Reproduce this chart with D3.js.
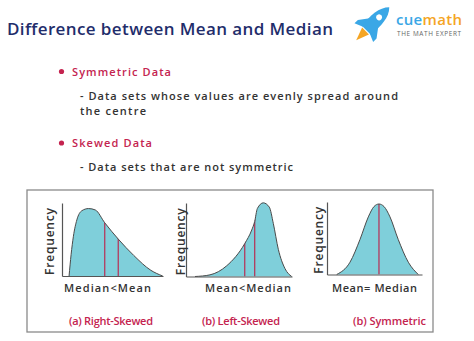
<!DOCTYPE html>
<html>
<head>
<meta charset="utf-8">
<script src="https://cdn.jsdelivr.net/npm/d3@7/dist/d3.min.js"></script>
<style>
  html, body { margin: 0; padding: 0; background: #fff; }
  svg { display: block; }
  text { font-family: "Open Sans", Lato, sans-serif; }
</style>
</head>
<body>
<svg id="chart" width="474" height="341"></svg>
<script>
// Curve shapes: position along the axis (0–100) and relative frequency (0–100)
const rightSkewX = [7, 9, 11.3, 14.7, 19.7, 26.3, 33, 42.3, 55.7, 71, 88, 99.7];
const rightSkewY = [0, 30, 56, 79, 92, 95, 93, 75, 52, 29, 8, 0];
const leftSkewX = [8.5, 22.6, 38.4, 55.4, 62, 64.8, 67.3, 72.9, 78.6, 82.4, 87.1, 93.4, 99.7];
const leftSkewY = [0, 2.3, 15, 46, 65, 77, 95, 103, 97, 74, 38, 11, 0];
const symmetricX = [10.2, 24.2, 34.7, 43.5, 49.5, 54.7, 60, 66.3, 75, 85.6, 96.1];
const symmetricY = [0, 17.4, 49.6, 81.7, 96.4, 100, 96.4, 81.7, 49.6, 17.4, 0];

// Median / mean positions on each axis
const rightSkewMarks = [42.3, 55.7];   // median, mean
const leftSkewMarks = [55.4, 64.8];    // mean, median
const symmetricMarks = [54.7];         // mean = median

const axisLabels = ["Median<Mean", "Mean<Median", "Mean= Median"];
const captions = ["(a) Right-Skewed", "(b) Left-Skewed", "(b) Symmetric"];
const yAxisTitle = "Frequency";

const svg = d3.select("#chart");

const navy = "#1f2d6b";
const pink = "#c4234f";
const dark = "#333333";

// ---- header ----
svg.append("text")
  .attr("x", 7).attr("y", 35)
  .attr("font-size", 17).attr("font-weight", 600)
  .attr("fill", navy)
  .attr("textLength", 326).attr("lengthAdjust", "spacing")
  .text("Difference between Mean and Median");

// logo: rocket
const rocket = svg.append("g").attr("transform", "translate(374,22.5) rotate(45) scale(1.2)");
rocket.append("path") // flame
  .attr("d", "M-4,10 L4,10 L0,21 Z").attr("fill", "#f5a524");
rocket.append("path") // fins
  .attr("d", "M-5,0 L-11,8 L-11,12 L-4,9 Z M5,0 L11,8 L11,12 L4,9 Z").attr("fill", "#3aa7e6");
rocket.append("path") // body
  .attr("d", "M0,-18 C6,-12 6.5,-2 5,9 L-5,9 C-6.5,-2 -6,-12 0,-18 Z").attr("fill", "#3aa7e6");
rocket.append("circle").attr("cx", 0).attr("cy", -6).attr("r", 2.4).attr("fill", "#fff");

const logo = svg.append("text").attr("x", 396).attr("y", 24.5)
  .attr("font-size", 15).attr("font-weight", 600)
  .attr("textLength", 66).attr("lengthAdjust", "spacing");
logo.append("tspan").attr("fill", "#3aa7e6").text("cue");
logo.append("tspan").attr("fill", "#f5a524").text("math");
svg.append("text").attr("x", 397).attr("y", 35.5)
  .attr("font-size", 6.4).attr("fill", "#666")
  .attr("textLength", 64).attr("lengthAdjust", "spacing")
  .text("THE MATH EXPERT");

// ---- definitions ----
const bullets = [
  { y: 75.5, head: "Symmetric Data", w: 99, lines: [["- Data sets whose values are evenly spread around", 100, 318], ["the centre", 115, 66]] },
  { y: 147, head: "Skewed Data", w: 80, lines: [["- Data sets that are not symmetric", 170.5, 213]] }
];
bullets.forEach(b => {
  svg.append("circle").attr("cx", 61.5).attr("cy", b.y - 4).attr("r", 2.6).attr("fill", pink);
  svg.append("text").attr("x", 72).attr("y", b.y)
    .attr("font-size", 11).attr("font-weight", 600).attr("fill", pink)
    .attr("textLength", b.w).attr("lengthAdjust", "spacing")
    .text(b.head);
  b.lines.forEach(([t, y, w]) => {
    svg.append("text").attr("x", 80).attr("y", y)
      .attr("font-size", 11).attr("font-weight", 600).attr("fill", dark)
      .attr("textLength", w).attr("lengthAdjust", "spacing")
      .text(t);
  });
});

// ---- framed panel group ----
svg.append("rect")
  .attr("x", 27).attr("y", 190).attr("width", 406).attr("height", 142)
  .attr("fill", "none").attr("stroke", "#8a8a8a").attr("stroke-width", 1.3);

const panels = [
  { xs: rightSkewX, ys: rightSkewY, marks: rightSkewMarks, frame: [62, 163, 276, 203], freqX: 49, labelX: 107.5, capX: 111, capW: 84, labW: 87 },
  { xs: leftSkewX, ys: leftSkewY, marks: leftSkewMarks, frame: [186, 292, 276.5, 203], freqX: 180, labelX: 248, capX: 241, capW: 78, labW: 86 },
  { xs: symmetricX, ys: symmetricY, marks: symmetricMarks, frame: [327, 422, 274.5, 202], freqX: 318.5, labelX: 374.5, capX: 389.5, capW: 73, labW: 85 }
];

panels.forEach((p, i) => {
  const [x0, x1, yb, yt] = p.frame;
  const x = d3.scaleLinear().domain([0, 100]).range([x0, x1]);
  const y = d3.scaleLinear().domain([0, 100]).range([yb, yt + 2]);
  const pts = p.xs.map((v, k) => [v, p.ys[k]]);

  const area = d3.area().x(d => x(d[0])).y0(yb).y1(d => y(d[1])).curve(d3.curveMonotoneX);
  const line = d3.line().x(d => x(d[0])).y(d => y(d[1])).curve(d3.curveMonotoneX);

  const clipId = "clip" + i;
  svg.append("clipPath").attr("id", clipId).append("path").attr("d", area(pts));

  svg.append("path").attr("d", area(pts)).attr("fill", "#7fcfda");

  svg.append("g").attr("clip-path", `url(#${clipId})`)
    .selectAll("line").data(p.marks).join("line")
    .attr("x1", d => x(d)).attr("x2", d => x(d))
    .attr("y1", yb).attr("y2", yt - 10)
    .attr("stroke", "#b33a5e").attr("stroke-width", 1.3);

  svg.append("path").attr("d", line(pts))
    .attr("fill", "none").attr("stroke", "#4a4a4a").attr("stroke-width", 1);

  // axes
  const xAxis = d3.axisBottom(x).ticks(0).tickSizeOuter(0);
  const yAxis = d3.axisLeft(d3.scaleLinear().domain([0, 1]).range([yb, yt])).ticks(0).tickSizeOuter(0);
  svg.append("g").attr("transform", `translate(0,${yb})`).call(xAxis)
    .select(".domain").attr("stroke", "#555").attr("stroke-width", 1.2);
  svg.append("g").attr("transform", `translate(${x0},0)`).call(yAxis)
    .select(".domain").attr("stroke", "#555").attr("stroke-width", 1.2);

  svg.append("text")
    .attr("transform", `translate(${p.freqX + 4.5},${(yb + yt) / 2 + 2}) rotate(-90)`)
    .attr("text-anchor", "middle").attr("font-size", 12).attr("font-weight", 600)
    .attr("fill", dark).attr("textLength", 67).attr("lengthAdjust", "spacing")
    .text(yAxisTitle);

  svg.append("text").attr("x", p.labelX).attr("y", 292)
    .attr("text-anchor", "middle").attr("font-size", 11).attr("font-weight", 600)
    .attr("fill", dark).attr("textLength", p.labW).attr("lengthAdjust", "spacing")
    .text(axisLabels[i]);

  svg.append("text").attr("x", p.capX).attr("y", 325)
    .attr("text-anchor", "middle").attr("font-size", 11).attr("font-weight", 600)
    .attr("fill", pink).attr("textLength", p.capW).attr("lengthAdjust", "spacing")
    .text(captions[i]);
});
</script>
</body>
</html>
